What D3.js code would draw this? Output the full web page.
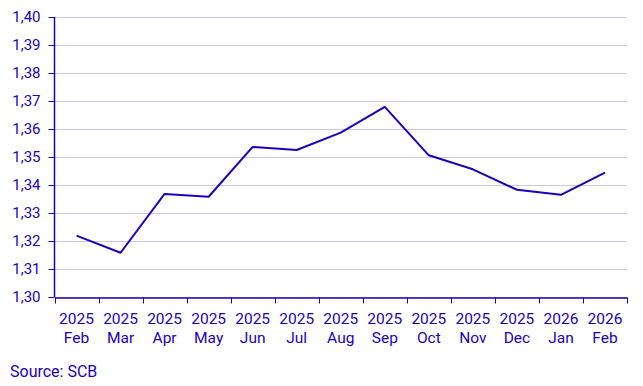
<!DOCTYPE html>
<meta charset="utf-8">
<style>
body { margin: 0; background: #fff; }
text { font-family: Roboto, "Liberation Sans", sans-serif; fill: #1e00be; }
</style>
<body>
<script src="https://cdn.jsdelivr.net/npm/d3@7"></script>
<script>

var width = 643,
    height = 386;

var years = ["2025","2025","2025","2025","2025","2025","2025","2025","2025","2025","2025","2026","2026"];
var months = ["Feb","Mar","Apr","May","Jun","Jul","Aug","Sep","Oct","Nov","Dec","Jan","Feb"];
var values = [1.3219, 1.3158, 1.3368, 1.3358, 1.3536, 1.3525, 1.3587, 1.3679, 1.3506, 1.3456, 1.3383, 1.3365, 1.3444];
var yTicks = [1.30, 1.31, 1.32, 1.33, 1.34, 1.35, 1.36, 1.37, 1.38, 1.39, 1.40];

var margin = {top: 17, right: 16, bottom: 89, left: 54.5};
var color = "#1e00be";

var svg = d3.select("body").append("svg")
    .attr("width", width)
    .attr("height", height);

var keys = d3.range(values.length);

var x = d3.scaleBand()
    .domain(keys)
    .range([margin.left, width - margin.right]);

var y = d3.scaleLinear()
    .domain([1.30, 1.40])
    .range([height - margin.bottom, margin.top]);

var fmt = function(d) { return d3.format(".2f")(d).replace(".", ","); };

// gridlines
svg.append("g")
  .selectAll("line")
  .data(yTicks)
  .enter().append("line")
    .attr("x1", margin.left)
    .attr("x2", width - margin.right)
    .attr("y1", function(d) { return Math.round(y(d)) + 0.5; })
    .attr("y2", function(d) { return Math.round(y(d)) + 0.5; })
    .attr("stroke", "#c9c6ee")
    .attr("stroke-width", 1);

// y axis
var yAxis = svg.append("g")
    .attr("transform", "translate(" + margin.left + ",0)")
    .call(d3.axisLeft(y).tickValues(yTicks).tickFormat(fmt).tickSize(6).tickPadding(8));

// x axis
var xAxis = svg.append("g")
    .attr("transform", "translate(0," + (height - margin.bottom + 0.5) + ")")
    .call(d3.axisBottom(x).tickValues([]).tickSizeOuter(0));

xAxis.selectAll(".tick-mark")
  .data(d3.range(values.length + 1))
  .enter().append("line")
    .attr("class", "tick-mark")
    .attr("x1", function(d) { return Math.round(margin.left + d * x.step()) + 0.5; })
    .attr("x2", function(d) { return Math.round(margin.left + d * x.step()) + 0.5; })
    .attr("y1", 0)
    .attr("y2", 6)
    .attr("stroke", color);

var lab = xAxis.selectAll(".lab")
  .data(keys)
  .enter().append("text")
    .attr("class", "lab")
    .attr("text-anchor", "middle")
    .attr("x", function(d) { return x(d) + x.bandwidth() / 2; })
    .style("font-size", "15.5px");

lab.append("tspan")
    .attr("x", function(d) { return x(d) + x.bandwidth() / 2; })
    .attr("y", 26)
    .text(function(d) { return years[d]; });
lab.append("tspan")
    .attr("x", function(d) { return x(d) + x.bandwidth() / 2; })
    .attr("y", 45)
    .text(function(d) { return months[d]; });

[yAxis, xAxis].forEach(function(a) {
  a.selectAll("path.domain").attr("stroke", color).attr("stroke-width", 1.5);
  a.selectAll(".tick line").attr("stroke", color);
  a.selectAll(".tick text").attr("fill", color).style("font-size", "15px").style("font-family", "Roboto, sans-serif");
});
yAxis.select("path.domain").attr("d", "M0," + margin.top + "V" + (height - margin.bottom));

// line
var line = d3.line()
    .x(function(d, i) { return x(i) + x.bandwidth() / 2; })
    .y(function(d) { return y(d); });

svg.append("path")
    .datum(values)
    .attr("fill", "none")
    .attr("stroke", color)
    .attr("stroke-width", 2)
    .attr("stroke-linejoin", "round")
    .attr("d", line);

svg.append("text")
    .attr("x", 10)
    .attr("y", 377)
    .style("font-size", "16px")
    .text("Source: SCB");

</script>
